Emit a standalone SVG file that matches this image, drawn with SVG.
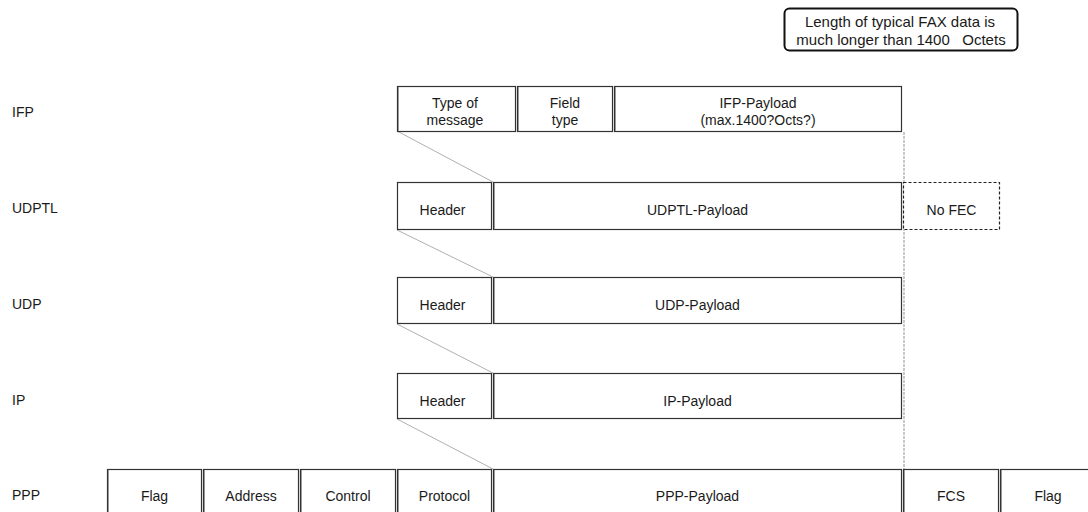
<svg xmlns="http://www.w3.org/2000/svg" width="1088" height="512" viewBox="0 0 1088 512">
<style>
.bx{fill:#fff;stroke:#333;stroke-width:1.2}
.sh{stroke:#999;stroke-width:1}
.dx{fill:#fff;stroke:#222;stroke-width:1.2;stroke-dasharray:3 2}
.t{font-family:"Liberation Sans",Arial,sans-serif;font-size:14px;fill:#1a1a1a;text-anchor:middle}
.k{font-family:"Liberation Sans",Arial,sans-serif;font-size:15px;fill:#1a1a1a;text-anchor:middle}
.l{font-family:"Liberation Sans",Arial,sans-serif;font-size:14px;fill:#1a1a1a}
.c{stroke:#b0b0b0;stroke-width:1;fill:none}
.d{stroke:#c8c8c8;stroke-width:2;stroke-dasharray:3 1;fill:none}
</style>
<rect width="1088" height="512" fill="#fff"/>
<g id="callout">
<rect x="784.5" y="8.5" width="233" height="42" rx="5" fill="#fff" stroke="#111" stroke-width="2"/>
<text class="k" x="900" y="26.5">Length of typical FAX data is</text>
<text class="k" x="901" y="45" xml:space="preserve">much longer than 1400   Octets</text>
</g>
<g id="labels">
<text class="l" x="12" y="117">IFP</text>
<text class="l" x="12" y="213">UDPTL</text>
<text class="l" x="12" y="309">UDP</text>
<text class="l" x="12" y="405">IP</text>
<text class="l" x="12" y="500">PPP</text>
</g>
<g id="connectors">
<line class="c" x1="397" y1="131" x2="493" y2="182"/>
<line class="c" x1="397" y1="230" x2="493" y2="277"/>
<line class="c" x1="397" y1="324" x2="493" y2="373"/>
<line class="c" x1="397" y1="419" x2="493" y2="469"/>
<line class="d" x1="904" y1="132" x2="904" y2="469"/>
</g>
<g id="ifp">
<g id="ifp-type"><rect class="bx" x="397.5" y="86.5" width="118" height="45"/><line class="sh" x1="398.5" y1="87" x2="398.5" y2="131"/><text class="t" x="455" y="108">Type of</text><text class="t" x="455" y="124.5">message</text></g>
<g id="ifp-field"><rect class="bx" x="517.5" y="86.5" width="95" height="45"/><line class="sh" x1="518.5" y1="87" x2="518.5" y2="131"/><text class="t" x="565" y="108">Field</text><text class="t" x="565" y="124.5">type</text></g>
<g id="ifp-payload"><rect class="bx" x="614.5" y="86.5" width="287" height="45"/><line class="sh" x1="615.5" y1="87" x2="615.5" y2="131"/><text class="t" x="758" y="108">IFP-Payload</text><text class="t" x="758" y="124.5">(max.1400?Octs?)</text></g>
</g>
<g id="udptl">
<g id="udptl-header"><rect class="bx" x="397.5" y="182.5" width="94" height="47"/><text class="t" x="442.5" y="214.5">Header</text></g>
<g id="udptl-payload"><rect class="bx" x="493.5" y="182.5" width="408" height="47"/><line class="sh" x1="494.5" y1="183" x2="494.5" y2="229"/><text class="t" x="697.5" y="214.5">UDPTL-Payload</text></g>
<g id="udptl-nofec"><rect class="dx" x="903.5" y="182.5" width="96" height="47"/><text class="t" x="951.5" y="214.5">No FEC</text></g>
</g>
<g id="udp">
<g id="udp-header"><rect class="bx" x="397.5" y="277.5" width="94" height="46"/><text class="t" x="442.5" y="310">Header</text></g>
<g id="udp-payload"><rect class="bx" x="493.5" y="277.5" width="408" height="46"/><line class="sh" x1="494.5" y1="278" x2="494.5" y2="323"/><text class="t" x="697.5" y="310">UDP-Payload</text></g>
</g>
<g id="ip">
<g id="ip-header"><rect class="bx" x="397.5" y="373.5" width="94" height="45"/><text class="t" x="442.5" y="406">Header</text></g>
<g id="ip-payload"><rect class="bx" x="493.5" y="373.5" width="408" height="45"/><line class="sh" x1="494.5" y1="374" x2="494.5" y2="418"/><text class="t" x="697.5" y="406">IP-Payload</text></g>
</g>
<g id="ppp">
<g id="ppp-flag1"><rect class="bx" x="107.5" y="469.5" width="94" height="60"/><line class="sh" x1="108.5" y1="470" x2="108.5" y2="512"/><text class="t" x="154.5" y="501">Flag</text></g>
<g id="ppp-address"><rect class="bx" x="203.5" y="469.5" width="95" height="60"/><line class="sh" x1="204.5" y1="470" x2="204.5" y2="512"/><text class="t" x="251" y="501">Address</text></g>
<g id="ppp-control"><rect class="bx" x="300.5" y="469.5" width="95" height="60"/><line class="sh" x1="301.5" y1="470" x2="301.5" y2="512"/><text class="t" x="348" y="501">Control</text></g>
<g id="ppp-protocol"><rect class="bx" x="397.5" y="469.5" width="94" height="60"/><line class="sh" x1="398.5" y1="470" x2="398.5" y2="512"/><text class="t" x="444.5" y="501">Protocol</text></g>
<g id="ppp-payload"><rect class="bx" x="493.5" y="469.5" width="408" height="60"/><line class="sh" x1="494.5" y1="470" x2="494.5" y2="512"/><text class="t" x="697.5" y="501">PPP-Payload</text></g>
<g id="ppp-fcs"><rect class="bx" x="903.5" y="469.5" width="95" height="60"/><line class="sh" x1="904.5" y1="470" x2="904.5" y2="512"/><text class="t" x="951" y="501">FCS</text></g>
<g id="ppp-flag2"><rect class="bx" x="1000.5" y="469.5" width="100" height="60"/><line class="sh" x1="1001.5" y1="470" x2="1001.5" y2="512"/><text class="t" x="1048" y="501">Flag</text></g>
</g>
</svg>
